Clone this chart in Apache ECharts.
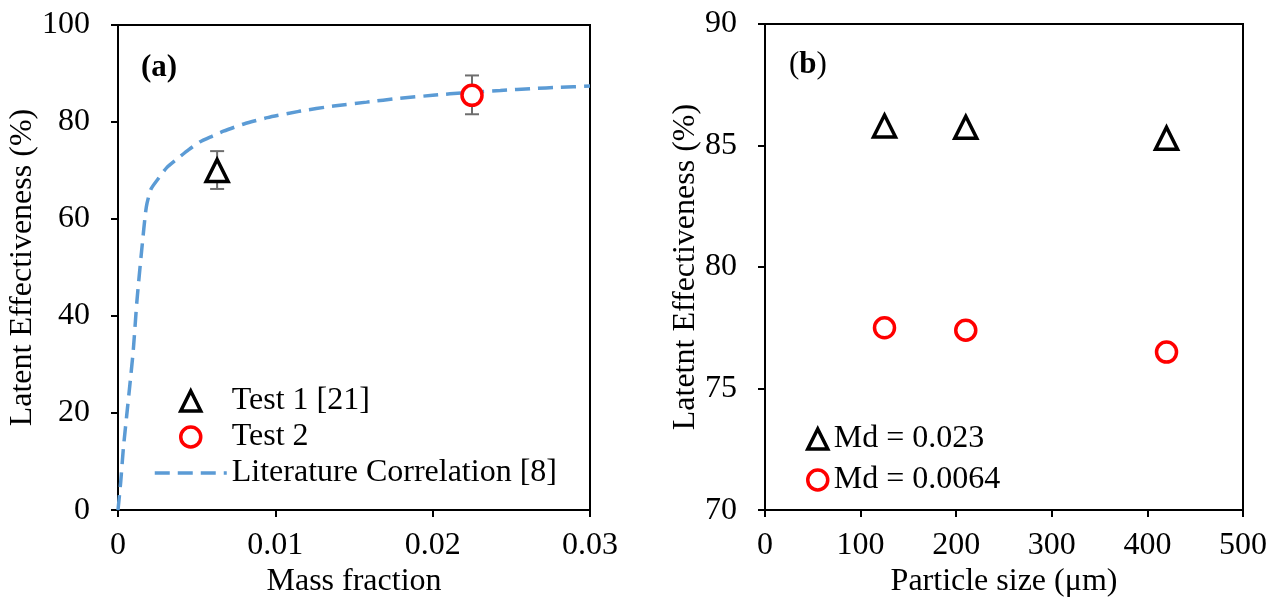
<!DOCTYPE html>
<html>
<head>
<meta charset="utf-8">
<script src="https://cdn.jsdelivr.net/npm/echarts@6/dist/echarts.min.js"></script>
<style>
html,body{margin:0;padding:0;background:#fff;overflow:hidden;}
#chart{width:1282px;height:603px;}
</style>
</head>
<body>
<div id="chart"></div>
<script>
// ---- Panel (a) data ----
const massTicks = [0, 0.01, 0.02, 0.03];
const test1Mass = [[0.0063, 70.0]];
const test1Err = [[0.0063, 66.2, 74.0]];
const test2Mass = [[0.0225, 85.5]];
const test2Err = [[0.0225, 81.6, 89.6]];
const literatureCorr = [
  [0, 0], [0.00017, 5.7], [0.00034, 12.7], [0.00055, 19.4], [0.00076, 26],
  [0.00097, 32.9], [0.0012, 43], [0.0015, 53.4], [0.0018, 62.5], [0.0021, 66.2],
  [0.0026, 68.5], [0.0031, 70.6], [0.0038, 72.5], [0.0045, 74.3], [0.0052, 75.9],
  [0.006, 77.1], [0.0067, 78.1], [0.008, 79.6], [0.0095, 80.9], [0.0115, 82.2],
  [0.0137, 83.3], [0.0158, 84.1], [0.0179, 84.9], [0.02, 85.5], [0.0222, 86.1],
  [0.0243, 86.5], [0.0264, 86.9], [0.028, 87.15], [0.03, 87.4]
];
// ---- Panel (b) data ----
const particleSize = [125, 210, 420];
const effMd0023 = [85.8, 85.75, 85.3];
const effMd00064 = [77.5, 77.4, 76.5];

const FONT = 'Liberation Serif';
const FS = 32;
const BLUE = '#5b9bd5';
const DASH = [15, 8];
const chart = echarts.init(document.getElementById('chart'));

function errorBars(xIdx, yIdx, data) {
  return {
    type: 'custom', xAxisIndex: xIdx, yAxisIndex: yIdx, z: 1, silent: true,
    data: data,
    renderItem: function (params, api) {
      const x = api.value(0);
      const lo = api.coord([x, api.value(1)]);
      const hi = api.coord([x, api.value(2)]);
      const w = 7;
      const st = { stroke: '#6e6e6e', lineWidth: 2 };
      return { type: 'group', children: [
        { type: 'line', shape: { x1: lo[0], y1: lo[1], x2: hi[0], y2: hi[1] }, style: st },
        { type: 'line', shape: { x1: lo[0] - w, y1: lo[1], x2: lo[0] + w, y2: lo[1] }, style: st },
        { type: 'line', shape: { x1: hi[0] - w, y1: hi[1], x2: hi[0] + w, y2: hi[1] }, style: st }
      ]};
    }
  };
}

const axisCommon = {
  axisLine: { show: true, onZero: false, lineStyle: { color: '#000', width: 2 } },
  axisTick: { show: true, inside: false, length: 7, lineStyle: { color: '#000', width: 2 } },
  axisLabel: { color: '#000', fontFamily: FONT, fontSize: FS },
  splitLine: { show: false },
  nameLocation: 'middle',
  nameTextStyle: { color: '#000', fontFamily: FONT, fontSize: FS }
};

const triStyle = { color: '#fff', borderColor: '#000', borderWidth: 3.5 };
const cirStyle = { color: '#fff', borderColor: '#ff0000', borderWidth: 3.5 };
const legTri = { color: '#fff', borderColor: '#000', borderWidth: 3.5 };
const legCir = { color: '#fff', borderColor: '#ff0000', borderWidth: 3.5 };
const noLine = { width: 0, opacity: 0 };

const option = {
  animation: false,
  backgroundColor: '#fff',
  grid: [
    { left: 118, right: 692, top: 25, bottom: 85, show: true, borderColor: '#000', borderWidth: 2, containLabel: false },
    { left: 765, right: 39, top: 24, bottom: 85, show: true, borderColor: '#000', borderWidth: 2, containLabel: false }
  ],
  xAxis: [
    Object.assign({}, axisCommon, { gridIndex: 0, type: 'value', min: 0, max: 0.03, interval: 0.01,
      name: 'Mass fraction', nameGap: 53,
      axisLabel: Object.assign({}, axisCommon.axisLabel, { margin: 19, formatter: v => String(+v.toFixed(2)) }) }),
    Object.assign({}, axisCommon, { gridIndex: 1, type: 'value', min: 0, max: 500, interval: 100,
      name: 'Particle size (μm)', nameGap: 52,
      axisLabel: Object.assign({}, axisCommon.axisLabel, { margin: 19 }) })
  ],
  yAxis: [
    Object.assign({}, axisCommon, { gridIndex: 0, type: 'value', min: 0, max: 100, interval: 20,
      name: 'Latent Effectiveness (%)', nameGap: 69,
      axisLabel: Object.assign({}, axisCommon.axisLabel, { margin: 28 }) }),
    Object.assign({}, axisCommon, { gridIndex: 1, type: 'value', min: 70, max: 90, interval: 5,
      name: 'Latetnt Effectiveness (%)', nameGap: 52,
      axisLabel: Object.assign({}, axisCommon.axisLabel, { margin: 28 }) })
  ],
  legend: [
    {
      left: 148, top: 378, orient: 'vertical', itemWidth: 72, itemHeight: 25, itemGap: 0,
      data: [
        { name: 'Test 1 [21]', itemStyle: legTri, lineStyle: noLine },
        { name: 'Test 2', itemStyle: legCir, lineStyle: noLine },
        { name: 'Literature Correlation [8]',
          itemStyle: { color: 'rgba(0,0,0,0)', borderColor: 'rgba(0,0,0,0)', borderWidth: 0, opacity: 0 },
          lineStyle: { color: BLUE, width: 3.5, type: DASH, opacity: 1 } }
      ],
      textStyle: { color: '#000', fontFamily: FONT, fontSize: FS, lineHeight: 36 }
    },
    {
      left: 801, top: 416, orient: 'vertical', itemWidth: 22, itemHeight: 25, itemGap: 5,
      data: [
        { name: 'Md = 0.023', itemStyle: legTri, lineStyle: noLine },
        { name: 'Md = 0.0064', itemStyle: legCir, lineStyle: noLine }
      ],
      textStyle: { color: '#000', fontFamily: FONT, fontSize: FS, lineHeight: 36 }
    }
  ],
  graphic: [
    { type: 'text', left: 141, top: 52, style: { text: '(a)', font: 'bold 31px "Liberation Serif"', fill: '#000' } },
    { type: 'text', left: 789, top: 49, style: { text: '{p|(}{b|b}{p|)}', rich: {
      p: { fontFamily: FONT, fontSize: 31, color: '#000' },
      b: { fontFamily: FONT, fontSize: 31, fontWeight: 'bold', color: '#000' } } } }
  ],
  series: [
    {
      name: 'Literature Correlation [8]', type: 'line', xAxisIndex: 0, yAxisIndex: 0,
      data: literatureCorr, showSymbol: false, symbol: 'none', smooth: 0.2, z: 2,
      lineStyle: { color: BLUE, width: 3.5, type: DASH },
      itemStyle: { color: BLUE }
    },
    errorBars(0, 0, test1Err),
    errorBars(0, 0, test2Err),
    {
      name: 'Test 1 [21]', type: 'line', xAxisIndex: 0, yAxisIndex: 0, data: test1Mass,
      symbol: 'triangle', symbolSize: 22, lineStyle: { width: 0 }, itemStyle: triStyle, z: 5
    },
    {
      name: 'Test 2', type: 'line', xAxisIndex: 0, yAxisIndex: 0, data: test2Mass,
      symbol: 'circle', symbolSize: 20, lineStyle: { width: 0 }, itemStyle: cirStyle, z: 5
    },
    {
      name: 'Md = 0.023', type: 'line', xAxisIndex: 1, yAxisIndex: 1,
      data: particleSize.map((x, i) => [x, effMd0023[i]]),
      symbol: 'triangle', symbolSize: 22, lineStyle: { width: 0 }, itemStyle: triStyle, z: 5
    },
    {
      name: 'Md = 0.0064', type: 'line', xAxisIndex: 1, yAxisIndex: 1,
      data: particleSize.map((x, i) => [x, effMd00064[i]]),
      symbol: 'circle', symbolSize: 20, lineStyle: { width: 0 }, itemStyle: cirStyle, z: 5
    }
  ]
};
chart.setOption(option);
</script>
</body>
</html>
